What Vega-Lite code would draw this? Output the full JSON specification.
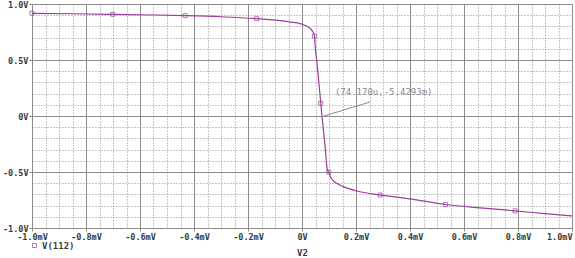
{
  "$schema": "https://vega.github.io/schema/vega-lite/v6.json",
  "width": 540,
  "height": 224,
  "autosize": {"type": "none"},
  "padding": {"left": 32, "top": 4, "right": 3, "bottom": 30},
  "background": "white",
  "config": {
    "view": {"stroke": null},
    "font": "DejaVu Sans Mono",
    "axis": {
      "labelFont": "DejaVu Sans Mono",
      "labelFontSize": 8.5,
      "labelFontWeight": "bold",
      "labelColor": "#3a3a3a",
      "titleFont": "DejaVu Sans Mono",
      "titleFontSize": 9,
      "titleFontWeight": "bold",
      "titleColor": "#3a3a3a",
      "domainColor": "#8c8c8c",
      "tickColor": "#8c8c8c",
      "gridColor": "#8c8c8c",
      "gridOpacity": 1,
      "labelOverlap": false,
      "labelFlush": false,
      "tickCount": 200
    }
  },
  "datasets": {
    "curve": [
      {"v2": -1.0, "v": 0.917, "marker": true},
      {"v2": -0.85, "v": 0.913, "marker": false},
      {"v2": -0.701, "v": 0.908, "marker": true},
      {"v2": -0.55, "v": 0.902, "marker": false},
      {"v2": -0.433, "v": 0.896, "marker": true},
      {"v2": -0.3, "v": 0.886, "marker": false},
      {"v2": -0.168, "v": 0.869, "marker": true},
      {"v2": -0.081, "v": 0.851, "marker": false},
      {"v2": -0.044, "v": 0.839, "marker": false},
      {"v2": -0.007, "v": 0.825, "marker": false},
      {"v2": 0.015, "v": 0.805, "marker": false},
      {"v2": 0.03, "v": 0.783, "marker": false},
      {"v2": 0.04, "v": 0.752, "marker": false},
      {"v2": 0.046, "v": 0.714, "marker": true},
      {"v2": 0.05, "v": 0.589, "marker": false},
      {"v2": 0.054, "v": 0.506, "marker": false},
      {"v2": 0.065, "v": 0.232, "marker": false},
      {"v2": 0.0696, "v": 0.113, "marker": true},
      {"v2": 0.0742, "v": -0.0054, "marker": false},
      {"v2": 0.085, "v": -0.26, "marker": false},
      {"v2": 0.094, "v": -0.482, "marker": false},
      {"v2": 0.099, "v": -0.5, "marker": true},
      {"v2": 0.107, "v": -0.55, "marker": false},
      {"v2": 0.116, "v": -0.578, "marker": false},
      {"v2": 0.135, "v": -0.61, "marker": false},
      {"v2": 0.153, "v": -0.631, "marker": false},
      {"v2": 0.203, "v": -0.67, "marker": false},
      {"v2": 0.289, "v": -0.705, "marker": true},
      {"v2": 0.4, "v": -0.74, "marker": false},
      {"v2": 0.532, "v": -0.79, "marker": true},
      {"v2": 0.66, "v": -0.82, "marker": false},
      {"v2": 0.789, "v": -0.847, "marker": true},
      {"v2": 0.9, "v": -0.872, "marker": false},
      {"v2": 1.0, "v": -0.893, "marker": false}
    ],
    "note": [
      {"x": 0.0742, "y": -0.0054, "x2": 0.252, "y2": 0.125, "tx": 0.122, "ty": 0.214, "label": "(74.170u,-5.4293m)"}
    ]
  },
  "layer": [
    {
      "data": {"name": "curve"},
      "mark": {"type": "line", "color": "#9a3f9a", "strokeWidth": 1.2, "interpolate": "monotone"},
      "encoding": {
        "x": {
          "field": "v2", "type": "quantitative",
          "scale": {"domain": [-1, 1], "nice": false, "zero": false},
          "axis": {
            "title": "V2",
            "titlePadding": 8,
            "tickCount": 200,
            "values": [-1, -0.95, -0.9, -0.85, -0.8, -0.75, -0.7, -0.65, -0.6, -0.55, -0.5, -0.45, -0.4, -0.35, -0.3, -0.25, -0.2, -0.15, -0.1, -0.05, 0, 0.05, 0.1, 0.15, 0.2, 0.25, 0.3, 0.35, 0.4, 0.45, 0.5, 0.55, 0.6, 0.65, 0.7, 0.75, 0.8, 0.85, 0.9, 0.95, 1],
            "grid": true,
            "gridDash": {"condition": {"test": "abs(datum.value*5 - round(datum.value*5)) < 0.001", "value": []}, "value": [1, 2]},
            "tickSize": {"condition": {"test": "abs(datum.value*5 - round(datum.value*5)) < 0.001", "value": 3}, "value": 0},
            "labelPadding": 1,
            "labelAlign": {"condition": {"test": "datum.value > 0.99", "value": "right"}, "value": "center"},
            "labelExpr": "abs(datum.value*5 - round(datum.value*5)) < 0.001 ? (abs(datum.value) < 0.001 ? '0V' : (datum.value < 0 ? '-' : '') + format(abs(datum.value), '.1f') + 'mV') : ''"
          }
        },
        "y": {
          "field": "v", "type": "quantitative",
          "scale": {"domain": [-1, 1], "nice": false, "zero": false},
          "axis": {
            "title": null,
            "tickCount": 200,
            "values": [-1, -0.9, -0.8, -0.7, -0.6, -0.5, -0.4, -0.3, -0.2, -0.1, 0, 0.1, 0.2, 0.3, 0.4, 0.5, 0.6, 0.7, 0.8, 0.9, 1],
            "grid": true,
            "gridDash": {"condition": {"test": "abs(datum.value*2 - round(datum.value*2)) < 0.001", "value": []}, "value": [1, 2]},
            "tickSize": {"condition": {"test": "abs(datum.value*2 - round(datum.value*2)) < 0.001", "value": 3}, "value": 0},
            "labelPadding": 1,
            "labelExpr": "abs(datum.value*2 - round(datum.value*2)) < 0.001 ? (abs(datum.value) < 0.001 ? '0V' : (datum.value < 0 ? '-' : '') + format(abs(datum.value), '.1f') + 'V') : ''"
          }
        }
      }
    },
    {
      "data": {"name": "curve"},
      "transform": [{"filter": "datum.marker"}],
      "mark": {"type": "point", "shape": "square", "filled": false, "size": 16, "strokeWidth": 1},
      "encoding": {
        "x": {"field": "v2", "type": "quantitative"},
        "y": {"field": "v", "type": "quantitative"},
        "color": {
          "datum": "V(112)",
          "scale": {"range": ["#9a3f9a"]},
          "legend": {
            "title": null,
            "orient": "none",
            "legendX": -2,
            "legendY": 237,
            "labelFont": "DejaVu Sans Mono",
            "labelFontSize": 9,
            "labelFontWeight": "bold",
            "labelColor": "#3a3a3a",
            "labelOffset": 3,
            "symbolType": "square",
            "symbolSize": 16,
            "symbolStrokeWidth": 1
          }
        }
      }
    },
    {
      "data": {"name": "note"},
      "mark": {"type": "rule", "color": "#8a8a8a", "strokeWidth": 1},
      "encoding": {
        "x": {"field": "x", "type": "quantitative"},
        "y": {"field": "y", "type": "quantitative"},
        "x2": {"field": "x2"},
        "y2": {"field": "y2"}
      }
    },
    {
      "data": {"name": "note"},
      "mark": {"type": "text", "align": "left", "baseline": "middle", "color": "#8a8a8a", "font": "DejaVu Sans Mono", "fontSize": 9},
      "encoding": {
        "x": {"field": "tx", "type": "quantitative"},
        "y": {"field": "ty", "type": "quantitative"},
        "text": {"field": "label"}
      }
    }
  ]
}
